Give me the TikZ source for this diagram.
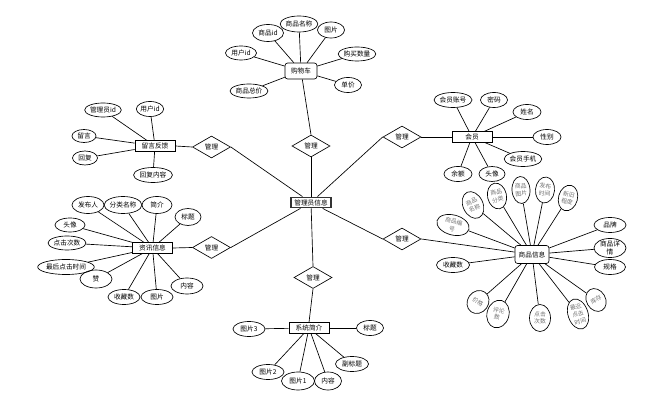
\documentclass[tikz,border=0pt]{standalone}
\usepackage{fontspec}
\setmainfont{Noto Sans CJK SC}
\usetikzlibrary{shapes.geometric}

\tikzset{
  attr/.style={draw, ellipse, inner sep=0pt, align=center, font=\fontsize{5}{5.5}\selectfont},
  oldattr/.style={attr, text=black!55, font=\fontsize{4.4}{5.6}\selectfont},
  ent/.style={draw, rectangle, inner sep=0pt, minimum width=30pt, minimum height=8pt, font=\fontsize{5}{5.5}\selectfont},
  rel/.style={draw, diamond, inner sep=0pt, aspect=1.7, minimum width=28.5pt, minimum height=16.5pt, font=\fontsize{5}{5.5}\selectfont},
}

\begin{document}
\begin{tikzpicture}[x=0.75pt, y=-0.75pt, line width=0.5pt]
    \useasboundingbox (0,0) rectangle (656,402);

    % entities
    \node[ent, line width=0.9pt, draw=black!80] (admin) at (311,202.5) {管理员信息};
    \node[ent, rounded corners=2pt, minimum width=24pt, minimum height=12pt] (cart) at (301,71) {购物车};
    \node[ent] (msg) at (155,146) {留言反馈};
    \node[ent] (news) at (152.5,248) {资讯信息};
    \node[ent] (vip) at (472,137) {会员};
    \node[ent, rounded corners=2pt, minimum width=25.5pt, minimum height=13.5pt] (goods) at (532,254.5) {商品信息};
    \node[ent] (sys) at (309,328) {系统简介};

    % relations
    \node[rel] (rT) at (311,146) {管理};
    \node[rel] (rUL) at (211.5,147) {管理};
    \node[rel] (rLL) at (211.5,247.5) {管理};
    \node[rel] (rUR) at (402,137) {管理};
    \node[rel] (rLR) at (402,239) {管理};
    \node[rel] (rB) at (313,277.5) {管理};

    \draw (rT.south) -- (admin.north);
    \draw (rT.north) -- (cart);
    \draw (rUL.east) -- (admin);
    \draw (rUL.west) -- (msg.east);
    \draw (rLL.east) -- (admin);
    \draw (rLL.west) -- (news.east);
    \draw (admin) -- (rUR.west);
    \draw (rUR.east) -- (vip.west);
    \draw (admin) -- (rLR.west);
    \draw (rLR.east) -- (goods);
    \draw (rB.north) -- (admin);
    \draw (rB.south) -- (sys.north);

    % cart
    \foreach \nm/\x/\y/\w/\h/\txt in {c1/268/33/31/17/商品id, c2/299/24/36/16/商品名称,
        c3/331/30/27/16/图片, c4/241/53/31/14/用户id, c5/357/54/35/14/购买数量,
        c6/348/85/27/15/单价, c7/249/91/38/14/商品总价} {
      \node[attr, minimum width=\w*0.75pt, minimum height=\h*0.75pt] (\nm) at (\x,\y) {\txt};
      \draw (\nm) -- (cart);
    }

    % messages
    \foreach \nm/\x/\y/\w/\h/\txt in {m1/103/110/32/14/管理员id, m2/150/109/26/15/用户id,
        m3/84/136/24/13/留言, m4/85/158/25/14/回复, m5/153/175/39/15/回复内容} {
      \node[attr, minimum width=\w*0.75pt, minimum height=\h*0.75pt] (\nm) at (\x,\y) {\txt};
      \draw (\nm) -- (msg);
    }

    % news
    \foreach \nm/\x/\y/\w/\h/\txt in {n1/88/205/32/17/发布人, n2/123/205/37/17/分类名称,
        n3/157/205/30/17/简介, n4/188/217/26/17/标题, n5/70/225/30/14/头像,
        n6/67/243/38/14/点击次数, n7/66/267/50/15/最后点击时间, n8/96/279/32/18/赞,
        n9/124/297/32/15/收藏数, n10/157/297/32/15/图片, n11/187/286/32/16/内容} {
      \node[attr, minimum width=\w*0.75pt, minimum height=\h*0.75pt] (\nm) at (\x,\y) {\txt};
      \draw (\nm) -- (news);
    }

    % member
    \foreach \nm/\x/\y/\w/\h/\txt in {v1/453/100/38/15/会员账号, v2/494/100/27/15/密码,
        v3/527/112/28/15/姓名, v4/547/137/28/15/性别, v5/523/159/33/15/会员手机,
        v6/458/174/28/15/余额, v7/492/174/26/15/头像} {
      \node[attr, minimum width=\w*0.75pt, minimum height=\h*0.75pt] (\nm) at (\x,\y) {\txt};
      \draw (\nm) -- (vip);
    }

    % goods
    \foreach \nm/\x/\y/\w/\h/\txt in {g1/610/225/32/15/品牌, g2/610/248/32/18/{商品详\\情},
        g3/610/267/31/15/规格, g4/453/265/33/15/收藏数} {
      \node[attr, minimum width=\w*0.75pt, minimum height=\h*0.75pt] (\nm) at (\x,\y) {\txt};
      \draw (\nm) -- (goods);
    }
    \foreach \nm/\x/\y/\w/\h/\rot/\txt in {h1/453/225/33/20/-15/{商品编\\号},
        h2/473/205/20/28/25/{商品\\名称}, h3/497/196/19/26/12/{商品\\分类},
        h4/521/190/18/27/4/{商品\\图片}, h5/545/190/19/26/-6/{发布\\时间},
        h6/568/198/19/26/-15/{新旧\\程度}, h7/478/302/21/24/-35/价格,
        h8/498/314/22/28/-15/{评论\\数}, h9/540/318/21/27/0/{点击\\次数},
        h10/578/314/20/31/18/{最近\\点击\\时间}, h11/596/300/19/24/30/库存} {
      \node[oldattr, rotate=\rot, minimum width=\w*0.75pt, minimum height=\h*0.75pt] (\nm) at (\x,\y) {\txt};
      \draw (\nm) -- (goods);
    }

    % system
    \foreach \nm/\x/\y/\w/\h/\txt in {s1/249/329/32/15/图片3, s2/370/328/27/15/标题,
        s3/268/372/32/15/图片2, s4/298/381/33/18/图片1, s5/328/381/27/18/内容,
        s6/352/364/33/15/副标题} {
      \node[attr, minimum width=\w*0.75pt, minimum height=\h*0.75pt] (\nm) at (\x,\y) {\txt};
      \draw (\nm) -- (sys);
    }
\end{tikzpicture}
\end{document}
